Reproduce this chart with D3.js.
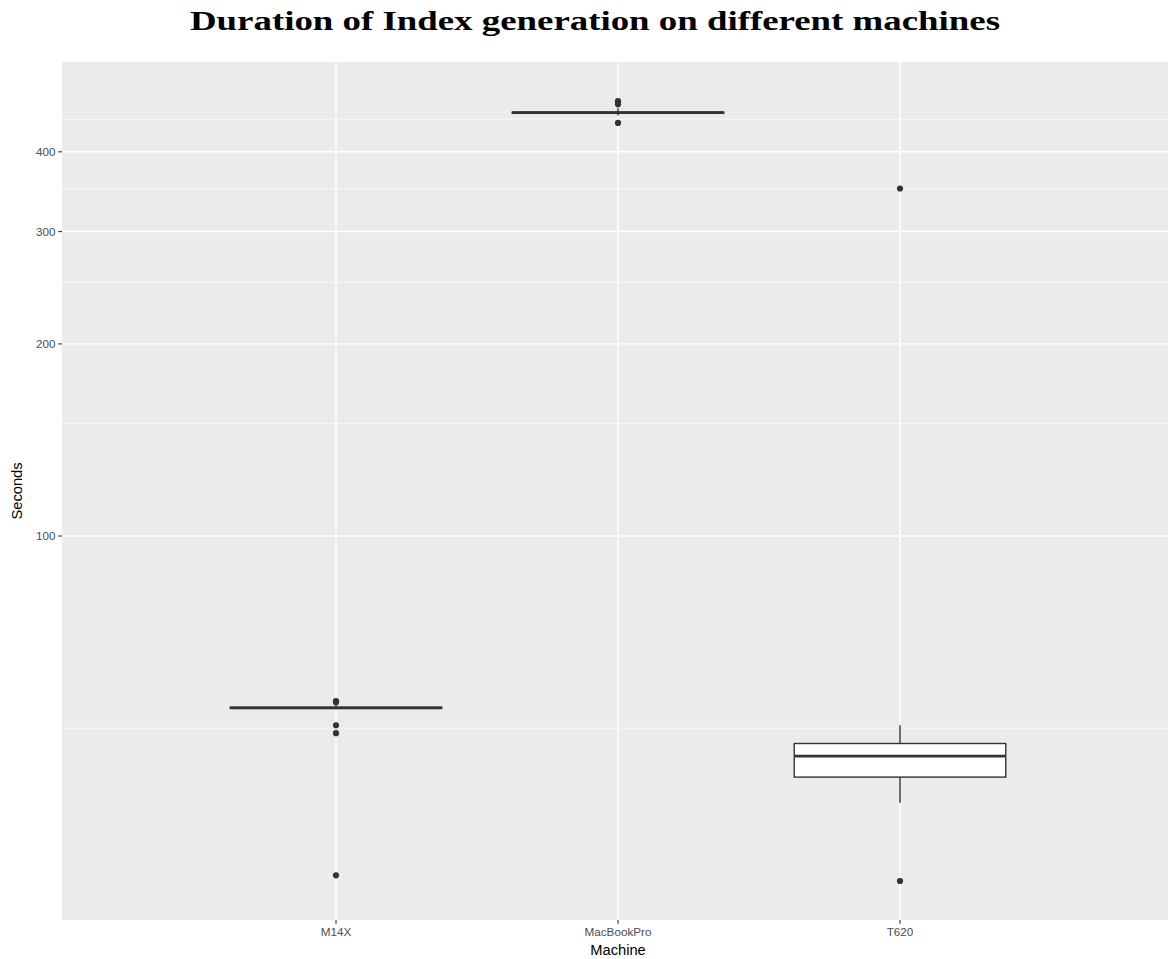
<!DOCTYPE html>
<html>
<head>
<meta charset="utf-8">
<script src="https://cdn.jsdelivr.net/npm/d3@7"></script>
<style>
  html, body { margin: 0; padding: 0; background: #ffffff; }
  svg { display: block; }
</style>
</head>
<body>
<svg id="chart" width="1168" height="959"></svg>
<script>
// ---- data ----
const machines = ["M14X", "MacBookPro", "T620"];
const whiskerLow  = [53.5, 456.0, 38.2];
const q1          = [53.7, 459.6, 41.9];
const median      = [53.8, 460.7, 45.2];
const q3          = [53.9, 461.6, 47.3];
const whiskerHigh = [54.3, 468.0, 50.5];
const outliersM14X       = [55.1, 54.9, 50.5, 49.1, 29.4];
const outliersMacBookPro = [480.5, 478.0, 475.0, 444.0];
const outliersT620       = [350.4, 28.8];
const outliers = [outliersM14X, outliersMacBookPro, outliersT620];
const yMajorTicks = [100, 200, 300, 400];
const yMinorTicks = [50, 150, 250, 350, 450];

const titleText = "Duration of Index generation on different machines";
const xTitle = "Machine";
const yTitle = "Seconds";

// ---- layout ----
const panel = { left: 62, top: 62, right: 1174, bottom: 920 };
const svg = d3.select("#chart");

// y: log10 transform, 5% expansion in transformed space
const allVals = whiskerLow.concat(whiskerHigh, ...outliers);
const lmin = Math.log10(d3.min(allVals)), lmax = Math.log10(d3.max(allVals));
const pad = (lmax - lmin) * 0.05;
const y = d3.scaleLog()
  .domain([Math.pow(10, lmin - pad), Math.pow(10, lmax + pad)])
  .range([panel.bottom, panel.top]);

// x: discrete positions
const x = d3.scalePoint().domain(machines).range([336, 900]);
const step = x.step();
const boxW = step * 0.75;

// panel background
svg.append("rect")
  .attr("x", panel.left).attr("y", panel.top)
  .attr("width", panel.right - panel.left).attr("height", panel.bottom - panel.top)
  .attr("fill", "#EBEBEB");

const grid = svg.append("g");
grid.selectAll("line.minor").data(yMinorTicks).join("line")
  .attr("class", "minor")
  .attr("x1", panel.left).attr("x2", panel.right)
  .attr("y1", d => y(d)).attr("y2", d => y(d))
  .attr("stroke", "#ffffff").attr("stroke-width", 0.7);
grid.selectAll("line.major").data(yMajorTicks).join("line")
  .attr("class", "major")
  .attr("x1", panel.left).attr("x2", panel.right)
  .attr("y1", d => y(d)).attr("y2", d => y(d))
  .attr("stroke", "#ffffff").attr("stroke-width", 1.4);
grid.selectAll("line.vmajor").data(machines).join("line")
  .attr("class", "vmajor")
  .attr("x1", d => x(d)).attr("x2", d => x(d))
  .attr("y1", panel.top).attr("y2", panel.bottom)
  .attr("stroke", "#ffffff").attr("stroke-width", 1.4);

// boxplots
const dark = "#333333";
const boxes = svg.append("g");
machines.forEach((m, i) => {
  const cx = x(m);
  const g = boxes.append("g");
  // whiskers
  g.append("line").attr("x1", cx).attr("x2", cx)
    .attr("y1", y(q3[i])).attr("y2", y(whiskerHigh[i]))
    .attr("stroke", dark).attr("stroke-width", 1.4);
  g.append("line").attr("x1", cx).attr("x2", cx)
    .attr("y1", y(q1[i])).attr("y2", y(whiskerLow[i]))
    .attr("stroke", dark).attr("stroke-width", 1.4);
  // box
  g.append("rect")
    .attr("x", cx - boxW / 2).attr("width", boxW)
    .attr("y", y(q3[i])).attr("height", Math.max(0, y(q1[i]) - y(q3[i])))
    .attr("fill", "#ffffff").attr("stroke", dark).attr("stroke-width", 1.4);
  // median
  g.append("line")
    .attr("x1", cx - boxW / 2).attr("x2", cx + boxW / 2)
    .attr("y1", y(median[i])).attr("y2", y(median[i]))
    .attr("stroke", dark).attr("stroke-width", 2.8);
  // outliers
  g.selectAll("circle").data(outliers[i]).join("circle")
    .attr("cx", cx).attr("cy", d => y(d)).attr("r", 3.1)
    .attr("fill", dark);
});

// axes
const tickColor = "#333333";
const labColor = "#4D4D4D";
const yAxis = svg.append("g");
yMajorTicks.forEach(t => {
  yAxis.append("line").attr("x1", panel.left - 3.7).attr("x2", panel.left)
    .attr("y1", y(t)).attr("y2", y(t)).attr("stroke", tickColor).attr("stroke-width", 1.1);
  yAxis.append("text").attr("x", panel.left - 6.6).attr("y", y(t) + 4.1)
    .attr("text-anchor", "end").attr("fill", labColor)
    .attr("font-family", "'Liberation Sans', Arial, sans-serif").attr("font-size", 11.7)
    .text(t);
});
const xAxis = svg.append("g");
machines.forEach(m => {
  xAxis.append("line").attr("x1", x(m)).attr("x2", x(m))
    .attr("y1", panel.bottom).attr("y2", panel.bottom + 3.7)
    .attr("stroke", tickColor).attr("stroke-width", 1.1);
  xAxis.append("text").attr("x", x(m)).attr("y", panel.bottom + 15.5)
    .attr("text-anchor", "middle").attr("fill", labColor)
    .attr("font-family", "'Liberation Sans', Arial, sans-serif").attr("font-size", 11.7)
    .text(m);
});

// axis titles
svg.append("text").attr("x", (panel.left + panel.right) / 2).attr("y", 955)
  .attr("text-anchor", "middle").attr("fill", "#000")
  .attr("font-family", "'Liberation Sans', Arial, sans-serif").attr("font-size", 14.7)
  .text(xTitle);
svg.append("text")
  .attr("transform", `translate(22,${(panel.top + panel.bottom) / 2}) rotate(-90)`)
  .attr("text-anchor", "middle").attr("fill", "#000")
  .attr("font-family", "'Liberation Sans', Arial, sans-serif").attr("font-size", 14.7)
  .text(yTitle);

// title
svg.append("text").attr("x", 595).attr("y", 30)
  .attr("text-anchor", "middle").attr("fill", "#000")
  .attr("font-family", "'Liberation Serif', 'DejaVu Serif', serif")
  .attr("font-weight", "bold").attr("font-size", 28)
  .attr("textLength", 810).attr("lengthAdjust", "spacingAndGlyphs")
  .text(titleText);
</script>
</body>
</html>
